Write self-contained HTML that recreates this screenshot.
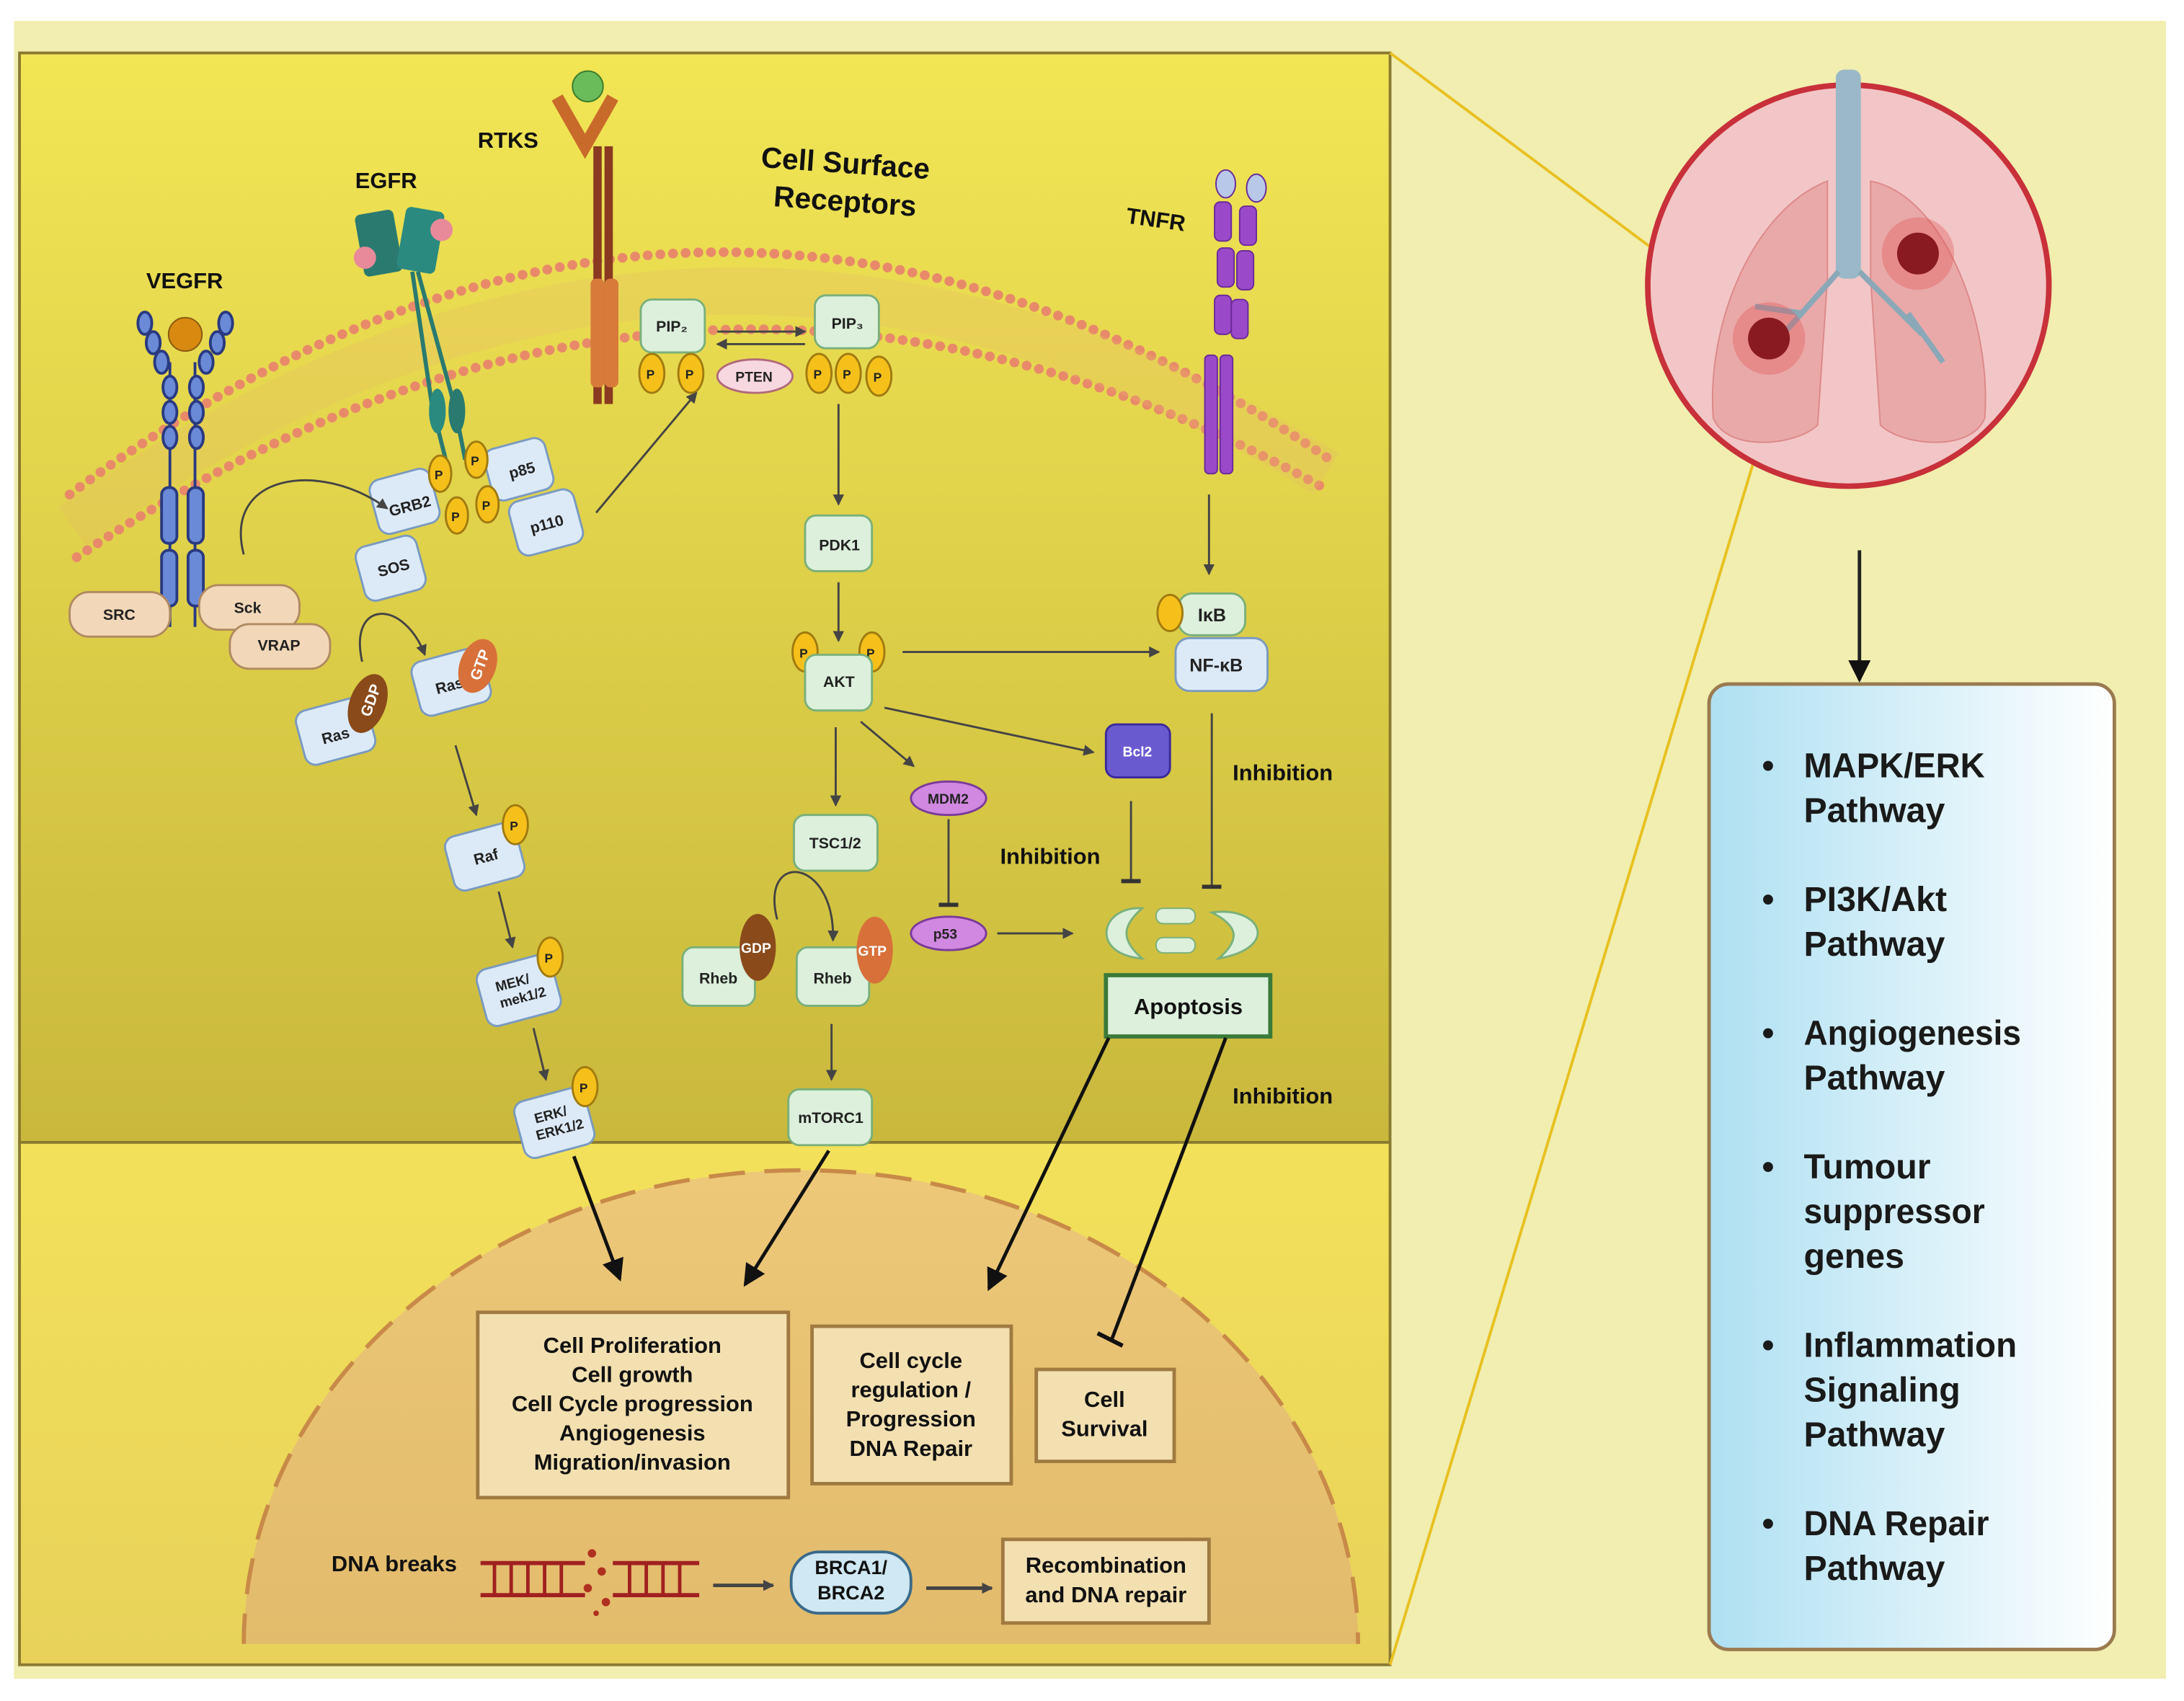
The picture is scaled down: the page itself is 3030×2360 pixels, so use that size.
<!DOCTYPE html>
<html><head><meta charset="utf-8"><style>
html,body{margin:0;padding:0;background:#fff;width:3030px;height:2360px;overflow:hidden;}
svg{display:block;}
text{font-family:"Liberation Sans",sans-serif;font-weight:bold;}
</style></head><body>
<svg width="3030" height="2360" viewBox="0 0 1568 1221" preserveAspectRatio="none" xmlns="http://www.w3.org/2000/svg">
<defs>
<linearGradient id="cyt" x1="0" y1="0" x2="0" y2="1"><stop offset="0" stop-color="#f2e655"/><stop offset="1" stop-color="#c9b83c"/></linearGradient>
<linearGradient id="nuc" x1="0" y1="0" x2="0" y2="1"><stop offset="0" stop-color="#f3e15a"/><stop offset="1" stop-color="#e8d25a"/></linearGradient>
<linearGradient id="nucl" x1="0" y1="0" x2="0" y2="1"><stop offset="0" stop-color="#ecc878"/><stop offset="1" stop-color="#d9ae60"/></linearGradient>
<linearGradient id="blue" x1="0" y1="0" x2="1" y2="0"><stop offset="0" stop-color="#aee0f2"/><stop offset="1" stop-color="#ffffff"/></linearGradient>
<marker id="ar" markerWidth="8" markerHeight="8" refX="7" refY="4" orient="auto" markerUnits="userSpaceOnUse"><path d="M0,0 L8,4 L0,8 z" fill="#444"/></marker>
<marker id="arb" markerWidth="16" markerHeight="16" refX="14" refY="8" orient="auto" markerUnits="userSpaceOnUse"><path d="M0,0 L16,8 L0,16 z" fill="#111"/></marker>
<marker id="tb" markerWidth="4" markerHeight="14" refX="2" refY="7" orient="auto" markerUnits="userSpaceOnUse"><rect x="0" y="0" width="3" height="14" fill="#333"/></marker>
</defs>
<rect width="1568" height="1221" fill="#fff"/>
<rect x="10" y="15" width="1545" height="1190" fill="#f1eeb0"/>
<rect x="14" y="38" width="984" height="782" fill="url(#cyt)" stroke="#8a7a30" stroke-width="2"/>
<rect x="14" y="820" width="984" height="375" fill="url(#nuc)" stroke="#8a7a30" stroke-width="2"/>
<clipPath id="cl"><rect x="14" y="820" width="984" height="360"/></clipPath>
<ellipse cx="575" cy="1180" rx="400" ry="340" fill="url(#nucl)" stroke="#c88a48" stroke-width="3" stroke-dasharray="26 14" clip-path="url(#cl)"/>
<path d="M50,355 Q500,20 955,330" fill="none" stroke="#e88a6a" stroke-width="7" stroke-dasharray="0.1 9" stroke-linecap="round"/>
<path d="M55,400 Q500,100 950,350" fill="none" stroke="#e88a6a" stroke-width="7" stroke-dasharray="0.1 9" stroke-linecap="round"/>
<path d="M52,378 Q500,60 952,340" fill="none" stroke="#e8b86a" stroke-width="34" opacity="0.25"/>
<line x1="998" y1="38" x2="1265" y2="237" stroke="#e8c020" stroke-width="2"/>
<line x1="998" y1="1195" x2="1277" y2="272" stroke="#e8c020" stroke-width="2"/>
<circle cx="1327" cy="205" r="144" fill="#f2c6c6" stroke="#c8303a" stroke-width="4"/>
<path d="M1312,130 C1260,150 1225,230 1230,300 C1240,325 1290,320 1305,305 L1312,200 z" fill="#eaa9a9" stroke="#d88"/>
<path d="M1343,130 C1395,140 1430,230 1425,300 C1415,325 1365,320 1350,305 L1343,200 z" fill="#eaa9a9" stroke="#d88"/>
<rect x="1318" y="50" width="18" height="150" rx="6" fill="#9ab8c8"/>
<path d="M1320,195 L1280,240 M1335,195 L1380,240 M1295,225 L1260,220 M1370,225 L1395,260" stroke="#8aa8b8" stroke-width="4" fill="none"/>
<circle cx="1270" cy="243" r="26" fill="#e05050" opacity="0.35"/><circle cx="1270" cy="243" r="15" fill="#8a1a22"/>
<circle cx="1377" cy="182" r="26" fill="#e05050" opacity="0.35"/><circle cx="1377" cy="182" r="15" fill="#8a1a22"/>
<line x1="1335" y1="395" x2="1335" y2="488" stroke="#222" stroke-width="2.5" marker-end="url(#arb)"/>
<rect x="1227" y="491" width="291" height="693" rx="14" fill="url(#blue)" stroke="#9a7a50" stroke-width="2.5"/>
<g font-size="25" fill="#1a1a1a">
<text x="1265" y="558">•</text><text x="1295" y="558" textLength="130" lengthAdjust="spacingAndGlyphs">MAPK/ERK</text><text x="1295" y="590">Pathway</text>
<text x="1265" y="654">•</text><text x="1295" y="654">PI3K/Akt</text><text x="1295" y="686">Pathway</text>
<text x="1265" y="750">•</text><text x="1295" y="750" textLength="156" lengthAdjust="spacingAndGlyphs">Angiogenesis</text><text x="1295" y="782">Pathway</text>
<text x="1265" y="846">•</text><text x="1295" y="846">Tumour</text><text x="1295" y="878" textLength="130" lengthAdjust="spacingAndGlyphs">suppressor</text><text x="1295" y="910">genes</text>
<text x="1265" y="974">•</text><text x="1295" y="974" textLength="153" lengthAdjust="spacingAndGlyphs">Inflammation</text><text x="1295" y="1006">Signaling</text><text x="1295" y="1038">Pathway</text>
<text x="1265" y="1102">•</text><text x="1295" y="1102" textLength="133" lengthAdjust="spacingAndGlyphs">DNA Repair</text><text x="1295" y="1134">Pathway</text>
</g>
<g font-size="16" fill="#111">
<text x="105" y="207">VEGFR</text><text x="255" y="135">EGFR</text><text x="343" y="106">RTKS</text><text x="808" y="160" transform="rotate(8 808 160)">TNFR</text>
<text x="546" y="120" font-size="21" transform="rotate(4 546 120)">Cell Surface</text><text x="555" y="148" font-size="21" transform="rotate(4 555 148)">Receptors</text>
<text x="885" y="560">Inhibition</text><text x="718" y="620">Inhibition</text><text x="885" y="792">Inhibition</text>
<text x="238" y="1128">DNA breaks</text>
</g>
<g stroke="#2a3a80" stroke-width="2" fill="#6a8ad8">
<line x1="122" y1="260" x2="122" y2="450"/><line x1="140" y1="260" x2="140" y2="450"/>
<ellipse cx="104" cy="232" rx="5" ry="8"/><ellipse cx="110" cy="246" rx="5" ry="8"/><ellipse cx="116" cy="260" rx="5" ry="8"/><ellipse cx="122" cy="278" rx="5" ry="8"/><ellipse cx="122" cy="296" rx="5" ry="8"/><ellipse cx="122" cy="314" rx="5" ry="8"/>
<ellipse cx="162" cy="232" rx="5" ry="8"/><ellipse cx="156" cy="246" rx="5" ry="8"/><ellipse cx="148" cy="260" rx="5" ry="8"/><ellipse cx="141" cy="278" rx="5" ry="8"/><ellipse cx="141" cy="296" rx="5" ry="8"/><ellipse cx="141" cy="314" rx="5" ry="8"/>
<rect x="116" y="350" width="11" height="40" rx="5"/><rect x="135" y="350" width="11" height="40" rx="5"/>
<rect x="116" y="395" width="11" height="40" rx="5"/><rect x="135" y="395" width="11" height="40" rx="5"/>
</g>
<circle cx="133" cy="240" r="12" fill="#d88a10" stroke="#8a5a10"/>
<rect x="258" y="152" width="28" height="45" rx="4" fill="#2a7a70" transform="rotate(-10 272 175)"/>
<rect x="288" y="150" width="28" height="45" rx="4" fill="#2a8a80" transform="rotate(10 302 172)"/>
<circle cx="262" cy="185" r="8" fill="#e88a9a"/><circle cx="317" cy="165" r="8" fill="#e88a9a"/>
<path d="M296,195 L310,290 L320,330 M300,195 L326,290 L334,330" stroke="#2a7a70" stroke-width="3" fill="none"/>
<ellipse cx="314" cy="295" rx="6" ry="16" fill="#2a8a80"/><ellipse cx="328" cy="295" rx="6" ry="16" fill="#2a7a70"/>
<path d="M400,70 L420,105 L440,70" stroke="#c86a2a" stroke-width="9" fill="none"/>
<circle cx="422" cy="62" r="11" fill="#6abc5a" stroke="#3a7a2a"/>
<rect x="426" y="105" width="6" height="185" fill="#8a3a20"/><rect x="434" y="105" width="6" height="185" fill="#8a3a20"/>
<rect x="424" y="200" width="10" height="78" rx="4" fill="#d87a3a"/><rect x="434" y="200" width="10" height="78" rx="4" fill="#d87a3a"/>
<g fill="#9a4ac8" stroke="#6a2a9a">
<ellipse cx="880" cy="132" rx="7" ry="10" fill="#b8c8e8"/><ellipse cx="902" cy="135" rx="7" ry="10" fill="#b8c8e8"/>
<rect x="872" y="145" width="12" height="28" rx="4"/><rect x="890" y="148" width="12" height="28" rx="4"/>
<rect x="874" y="178" width="12" height="28" rx="4"/><rect x="888" y="180" width="12" height="28" rx="4"/>
<rect x="872" y="212" width="12" height="28" rx="4"/><rect x="884" y="215" width="12" height="28" rx="4"/>
<rect x="865" y="255" width="9" height="85" rx="3"/><rect x="876" y="255" width="9" height="85" rx="3"/>
</g>
<g font-size="11" fill="#222" stroke-width="1.5">
<rect x="50" y="425" width="72" height="32" rx="14" fill="#f2d8b8" stroke="#b08a60"/><text x="74" y="445">SRC</text>
<rect x="143" y="420" width="72" height="32" rx="14" fill="#f2d8b8" stroke="#b08a60"/><text x="168" y="440">Sck</text>
<rect x="165" y="448" width="72" height="32" rx="14" fill="#f2d8b8" stroke="#b08a60"/><text x="185" y="467">VRAP</text>
<rect x="268" y="340" width="45" height="40" rx="8" fill="#dceaf8" stroke="#7a9ac0" transform="rotate(-15 290 360)"/><text x="278" y="368" transform="rotate(-15 290 360)">GRB2</text>
<rect x="258" y="388" width="45" height="40" rx="8" fill="#dceaf8" stroke="#7a9ac0" transform="rotate(-15 280 408)"/><text x="271" y="412" transform="rotate(-15 280 408)">SOS</text>
<rect x="350" y="318" width="45" height="38" rx="8" fill="#dceaf8" stroke="#7a9ac0" transform="rotate(-15 372 337)"/><text x="365" y="342" transform="rotate(-15 372 337)">p85</text>
<rect x="368" y="355" width="48" height="40" rx="8" fill="#dceaf8" stroke="#7a9ac0" transform="rotate(-15 392 375)"/><text x="380" y="380" transform="rotate(-15 392 375)">p110</text>
<g fill="#f5c01a" stroke="#a07a10"><ellipse cx="316" cy="340" rx="8" ry="13"/><ellipse cx="342" cy="330" rx="8" ry="13"/><ellipse cx="328" cy="370" rx="8" ry="13"/><ellipse cx="350" cy="362" rx="8" ry="13"/></g>
<rect x="215" y="505" width="52" height="40" rx="8" fill="#dceaf8" stroke="#7a9ac0" transform="rotate(-15 240 525)"/><text x="230" y="532" transform="rotate(-15 240 525)">Ras</text>
<ellipse cx="264" cy="505" rx="13" ry="22" fill="#8a4a1a" transform="rotate(20 264 505)"/><text x="255" y="510" fill="#fff" transform="rotate(-70 264 505)">GDP</text>
<rect x="298" y="470" width="52" height="40" rx="8" fill="#dceaf8" stroke="#7a9ac0" transform="rotate(-15 322 490)"/><text x="312" y="496" transform="rotate(-15 322 490)">Ras</text>
<ellipse cx="343" cy="478" rx="13" ry="20" fill="#d8703a" transform="rotate(20 343 478)"/><text x="333" y="483" fill="#fff" transform="rotate(-70 343 478)">GTP</text>
<rect x="322" y="595" width="52" height="40" rx="8" fill="#dceaf8" stroke="#7a9ac0" transform="rotate(-15 348 615)"/><text x="340" y="619" transform="rotate(-15 348 615)">Raf</text>
<ellipse cx="370" cy="592" rx="9" ry="14" fill="#f5c01a" stroke="#a07a10"/>
<rect x="345" y="690" width="55" height="42" rx="8" fill="#dceaf8" stroke="#7a9ac0" transform="rotate(-15 372 711)"/><text x="357" y="708" font-size="10" transform="rotate(-15 372 711)">MEK/</text><text x="357" y="720" font-size="10" transform="rotate(-15 372 711)">mek1/2</text>
<ellipse cx="395" cy="687" rx="9" ry="14" fill="#f5c01a" stroke="#a07a10"/>
<rect x="372" y="785" width="52" height="42" rx="8" fill="#dceaf8" stroke="#7a9ac0" transform="rotate(-15 398 806)"/><text x="385" y="803" font-size="10" transform="rotate(-15 398 806)">ERK/</text><text x="383" y="815" font-size="10" transform="rotate(-15 398 806)">ERK1/2</text>
<ellipse cx="420" cy="780" rx="9" ry="14" fill="#f5c01a" stroke="#a07a10"/>
<rect x="460" y="215" width="46" height="38" rx="8" fill="#dcf0dc" stroke="#7ab07a"/><text x="471" y="238">PIP₂</text>
<rect x="585" y="212" width="46" height="38" rx="8" fill="#dcf0dc" stroke="#7ab07a"/><text x="597" y="236">PIP₃</text>
<g fill="#f5c01a" stroke="#a07a10"><ellipse cx="468" cy="268" rx="9" ry="14"/><ellipse cx="496" cy="268" rx="9" ry="14"/><ellipse cx="588" cy="268" rx="9" ry="14"/><ellipse cx="609" cy="268" rx="9" ry="14"/><ellipse cx="631" cy="270" rx="9" ry="14"/><ellipse cx="578" cy="468" rx="9" ry="14"/><ellipse cx="626" cy="468" rx="9" ry="14"/></g>
<g font-size="9" fill="#222"><text x="464" y="272">P</text><text x="492" y="272">P</text><text x="584" y="272">P</text><text x="605" y="272">P</text><text x="627" y="274">P</text><text x="574" y="472">P</text><text x="622" y="472">P</text><text x="366" y="596">P</text><text x="391" y="691">P</text><text x="416" y="784">P</text><text x="312" y="344">P</text><text x="338" y="334">P</text><text x="324" y="374">P</text><text x="346" y="366">P</text><text x="836" y="443">P</text></g>
<ellipse cx="542" cy="270" rx="27" ry="12" fill="#f8d8e0" stroke="#b06a7a"/><text x="528" y="274" font-size="10">PTEN</text>
<rect x="578" y="370" width="48" height="40" rx="8" fill="#dcf0dc" stroke="#7ab07a"/><text x="588" y="395">PDK1</text>
<rect x="578" y="470" width="48" height="40" rx="8" fill="#dcf0dc" stroke="#7ab07a"/><text x="591" y="493">AKT</text>
<rect x="570" y="585" width="60" height="40" rx="8" fill="#dcf0dc" stroke="#7ab07a"/><text x="581" y="609">TSC1/2</text>
<rect x="490" y="680" width="52" height="42" rx="8" fill="#dcf0dc" stroke="#7ab07a"/><text x="502" y="706">Rheb</text>
<ellipse cx="544" cy="680" rx="13" ry="24" fill="#8a4a1a"/><text x="532" y="684" fill="#fff" font-size="10">GDP</text>
<rect x="572" y="680" width="52" height="42" rx="8" fill="#dcf0dc" stroke="#7ab07a"/><text x="584" y="706">Rheb</text>
<ellipse cx="628" cy="682" rx="13" ry="24" fill="#d8703a"/><text x="616" y="686" fill="#fff" font-size="10">GTP</text>
<rect x="566" y="782" width="60" height="40" rx="8" fill="#dcf0dc" stroke="#7ab07a"/><text x="573" y="806">mTORC1</text>
<ellipse cx="681" cy="573" rx="27" ry="12" fill="#d088e0" stroke="#7a3a9a"/><text x="666" y="577" font-size="10">MDM2</text>
<ellipse cx="681" cy="670" rx="27" ry="12" fill="#d088e0" stroke="#7a3a9a"/><text x="670" y="674" font-size="10">p53</text>
<rect x="794" y="520" width="46" height="38" rx="7" fill="#6a5ad0" stroke="#3a2a9a"/><text x="806" y="543" fill="#fff" font-size="10">Bcl2</text>
<rect x="846" y="426" width="48" height="30" rx="10" fill="#dcf0dc" stroke="#7ab07a"/><text x="860" y="446" font-size="13">IκB</text>
<ellipse cx="840" cy="440" rx="9" ry="13" fill="#f5c01a" stroke="#a07a10"/>
<rect x="844" y="458" width="66" height="38" rx="10" fill="#dceaf8" stroke="#7a9ac0"/><text x="854" y="482" font-size="13">NF-κB</text>
</g>
<path d="M820,652 C790,650 782,685 820,688 C805,675 805,665 820,652z" fill="#dcf0dc" stroke="#7ab07a" stroke-width="1.5"/>
<rect x="830" y="652" width="28" height="11" rx="5" fill="#dcf0dc" stroke="#7ab07a"/><rect x="830" y="673" width="28" height="11" rx="5" fill="#dcf0dc" stroke="#7ab07a"/>
<path d="M870,655 C905,650 920,680 875,688 C890,675 890,665 870,655z" fill="#dcf0dc" stroke="#7ab07a" stroke-width="1.5"/>
<rect x="794" y="700" width="118" height="44" fill="#dcf0dc" stroke="#3a7a3a" stroke-width="3"/>
<text x="814" y="728" font-size="16" fill="#111">Apoptosis</text>
<g stroke="#444" stroke-width="1.5" fill="none">
<path d="M175,398 C160,340 230,330 278,365" marker-end="url(#ar)"/>
<path d="M260,475 C250,430 290,430 305,470" marker-end="url(#ar)"/>
<line x1="327" y1="535" x2="342" y2="585" marker-end="url(#ar)"/>
<line x1="358" y1="640" x2="368" y2="680" marker-end="url(#ar)"/>
<line x1="383" y1="738" x2="392" y2="775" marker-end="url(#ar)"/>
<line x1="428" y1="368" x2="500" y2="282" marker-end="url(#ar)"/>
<line x1="515" y1="238" x2="578" y2="238" marker-end="url(#ar)"/>
<line x1="578" y1="247" x2="515" y2="247" marker-end="url(#ar)"/>
<line x1="602" y1="290" x2="602" y2="362" marker-end="url(#ar)"/>
<line x1="602" y1="418" x2="602" y2="460" marker-end="url(#ar)"/>
<line x1="648" y1="468" x2="832" y2="468" marker-end="url(#ar)"/>
<line x1="635" y1="508" x2="785" y2="540" marker-end="url(#ar)"/>
<line x1="618" y1="518" x2="656" y2="550" marker-end="url(#ar)"/>
<line x1="600" y1="522" x2="600" y2="578" marker-end="url(#ar)"/>
<path d="M558,660 C545,610 600,615 598,675" marker-end="url(#ar)"/>
<line x1="597" y1="735" x2="597" y2="775" marker-end="url(#ar)"/>
<line x1="716" y1="670" x2="770" y2="670" marker-end="url(#ar)"/>
<line x1="868" y1="355" x2="868" y2="412" marker-end="url(#ar)"/>
<line x1="681" y1="588" x2="681" y2="650" marker-end="url(#tb)"/>
<line x1="812" y1="575" x2="812" y2="633" marker-end="url(#tb)"/>
<line x1="870" y1="512" x2="870" y2="637" marker-end="url(#tb)"/>
</g>
<g stroke="#111" stroke-width="2.5" fill="none">
<line x1="412" y1="830" x2="445" y2="918" marker-end="url(#arb)"/>
<line x1="595" y1="826" x2="535" y2="922" marker-end="url(#arb)"/>
<line x1="796" y1="745" x2="710" y2="925" marker-end="url(#arb)"/>
<line x1="880" y1="745" x2="798" y2="962"/>
<line x1="788" y1="957" x2="806" y2="966" stroke-width="3"/>
</g>
<g fill="#f3e0b0" stroke="#a07a40" stroke-width="2.5">
<rect x="343" y="942" width="223" height="133"/><rect x="583" y="952" width="143" height="113"/><rect x="744" y="983" width="99" height="66"/>
<rect x="720" y="1105" width="148" height="60"/>
</g>
<g font-size="16" fill="#111" text-anchor="middle">
<text x="454" y="971">Cell Proliferation</text><text x="454" y="992">Cell growth</text><text x="454" y="1013">Cell Cycle progression</text><text x="454" y="1034">Angiogenesis</text><text x="454" y="1055">Migration/invasion</text>
<text x="654" y="982">Cell cycle</text><text x="654" y="1003">regulation /</text><text x="654" y="1024">Progression</text><text x="654" y="1045">DNA Repair</text>
<text x="793" y="1010">Cell</text><text x="793" y="1031">Survival</text>
<text x="794" y="1129">Recombination</text><text x="794" y="1150">and DNA  repair</text>
</g>
<rect x="568" y="1114" width="86" height="44" rx="20" fill="#cfe8f4" stroke="#3a6a8a" stroke-width="2"/>
<text x="611" y="1130" font-size="14" text-anchor="middle" fill="#111">BRCA1/</text><text x="611" y="1148" font-size="14" text-anchor="middle" fill="#111">BRCA2</text>
<g stroke="#a02020" stroke-width="3"><line x1="345" y1="1122" x2="420" y2="1122"/><line x1="345" y1="1145" x2="420" y2="1145"/><line x1="440" y1="1122" x2="502" y2="1122"/><line x1="440" y1="1145" x2="502" y2="1145"/></g>
<g stroke="#a02020" stroke-width="2.5"><path d="M355,1122v23M367,1122v23M379,1122v23M391,1122v23M403,1122v23M452,1122v23M464,1122v23M476,1122v23M488,1122v23"/></g>
<g fill="#b03020"><circle cx="425" cy="1115" r="3"/><circle cx="432" cy="1128" r="3"/><circle cx="422" cy="1140" r="3"/><circle cx="435" cy="1150" r="3"/><circle cx="428" cy="1158" r="2"/></g>
<g stroke="#444" stroke-width="2.5"><line x1="512" y1="1138" x2="555" y2="1138" marker-end="url(#ar)"/><line x1="665" y1="1140" x2="712" y2="1140" marker-end="url(#ar)"/></g>
</svg>
</body></html>
